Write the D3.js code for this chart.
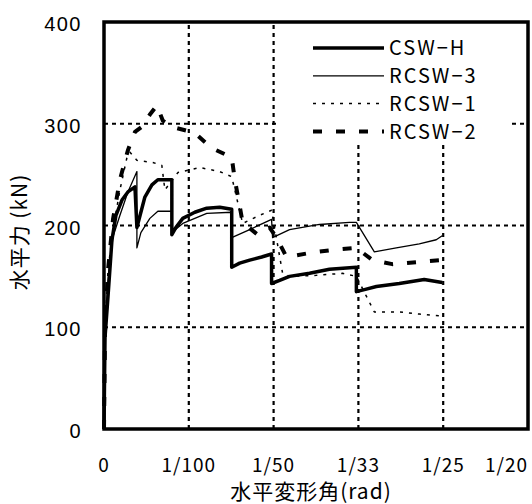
<!DOCTYPE html>
<meta charset="utf-8">
<style>
  body { margin: 0; background: #fff; }
  text { fill: #000; }
  .ytick { font-family: "Liberation Sans", Arial, sans-serif; font-size: 20px; letter-spacing: 1.5px; }
  .xtick { font-family: "Noto Sans CJK JP", sans-serif; font-size: 19px; letter-spacing: 1px; }
  .legend { font-family: "Noto Sans CJK JP", sans-serif; font-size: 20px; letter-spacing: 2px; }
  .title { font-family: "Noto Sans CJK JP", sans-serif; font-size: 21px; letter-spacing: 1px; }
</style>
<body>
<script src="https://cdnjs.cloudflare.com/ajax/libs/d3/7.8.5/d3.min.js"></script>
<script>
// drift angle (rad) / horizontal force (kN)
var cswH_x = [0, 0.00012, 0.00047, 0.00094, 0.00141, 0.00212, 0.00282, 0.00365, 0.00388, 0.00482, 0.00565, 0.00635, 0.0080, 0.0080, 0.00847, 0.00929, 0.01071, 0.01212, 0.01365, 0.01506, 0.01506, 0.016, 0.01718, 0.01859, 0.01976, 0.01976, 0.02071, 0.02188, 0.02424, 0.02659, 0.02976, 0.02976, 0.03071, 0.03212, 0.03482, 0.03776, 0.03988];
var cswH_y = [0, 90, 130, 186, 210, 225, 233, 238, 198, 228, 240, 245, 245, 191, 198, 207, 213, 217, 218, 216, 159, 163, 166, 169, 172, 143, 146, 150, 153, 157, 159, 135, 137, 140, 143, 147, 144];

var rcsw3_x = [0, 0.00012, 0.00047, 0.00106, 0.00188, 0.00282, 0.00388, 0.00388, 0.00435, 0.00541, 0.00635, 0.0080, 0.0080, 0.00929, 0.01212, 0.01506, 0.01506, 0.01718, 0.01976, 0.01988, 0.02188, 0.02541, 0.02894, 0.02976, 0.03188, 0.03447, 0.03718, 0.03918, 0.03988];
var rcsw3_y = [0, 97, 146, 189, 210, 233, 253, 178, 193, 207, 214, 214, 193, 202, 212, 213, 188, 196, 206, 188, 196, 201, 203, 203, 174, 178, 182, 186, 190];

var rcsw1_x = [0, 0.00012, 0.00047, 0.00106, 0.00188, 0.00271, 0.00306, 0.00388, 0.00576, 0.00682, 0.00718, 0.00871, 0.01129, 0.01365, 0.01506, 0.01635, 0.01835, 0.01976, 0.02106, 0.02188, 0.02506, 0.02812, 0.02976, 0.03188, 0.03482, 0.03718, 0.03988];
var rcsw1_y = [0, 97, 156, 196, 235, 267, 272, 264, 262, 259, 235, 252, 257, 253, 248, 202, 210, 215, 153, 150, 151, 153, 150, 115, 115, 113, 111];

var rcsw2_x = [0, 0.00012, 0.00047, 0.00106, 0.00188, 0.00282, 0.00365, 0.00447, 0.00541, 0.00624, 0.00694, 0.0080, 0.01071, 0.01271, 0.01506, 0.01541, 0.01635, 0.01812, 0.01953, 0.02035, 0.02153, 0.02424, 0.02694, 0.02976, 0.03165, 0.034, 0.03682, 0.03988];
var rcsw2_y = [0, 97, 156, 206, 245, 274, 292, 297, 309, 318, 303, 297, 291, 276, 267, 246, 203, 191, 198, 188, 169, 173, 176, 178, 166, 162, 164, 166];

var xTicks = [0, 0.01, 0.02, 0.03, 0.04, 0.05];
var xTickLabels = ["0", "1/100", "1/50", "1/33", "1/25", "1/20"];
var yTicks = [0, 100, 200, 300, 400];

var width = 532, height = 504;
var svg = d3.select("body").append("svg")
    .attr("width", width)
    .attr("height", height);

var x = d3.scaleLinear().domain([0, 0.05]).range([104, 528]);
var y = d3.scaleLinear().domain([0, 400]).range([429, 22]);

// grid
svg.selectAll(".vgrid")
    .data(xTicks.slice(1, 5))
  .enter().append("line")
    .attr("x1", function(d) { return x(d); })
    .attr("x2", function(d) { return x(d); })
    .attr("y1", y(0)).attr("y2", y(400))
    .attr("stroke", "#000").attr("stroke-width", 2.2)
    .attr("stroke-dasharray", "4,4");

svg.selectAll(".hgrid")
    .data([100, 200, 300])
  .enter().append("line")
    .attr("x1", x(0)).attr("x2", x(0.05))
    .attr("y1", function(d) { return y(d); })
    .attr("y2", function(d) { return y(d); })
    .attr("stroke", "#000").attr("stroke-width", 2.2)
    .attr("stroke-dasharray", "4,4");

// series
var series = [
  { name: "RCSW-1", xs: rcsw1_x, ys: rcsw1_y, w: 1.5, dash: "3,6" },
  { name: "RCSW-3", xs: rcsw3_x, ys: rcsw3_y, w: 1.3, dash: null },
  { name: "RCSW-2", xs: rcsw2_x, ys: rcsw2_y, w: 4, dash: "9,14" },
  { name: "CSW-H", xs: cswH_x, ys: cswH_y, w: 3.5, dash: null }
];

var line = d3.line()
    .x(function(d) { return x(d[0]); })
    .y(function(d) { return y(d[1]); });

series.forEach(function(s) {
  svg.append("path")
    .attr("d", line(d3.zip(s.xs, s.ys)))
    .attr("fill", "none")
    .attr("stroke", "#000")
    .attr("stroke-width", s.w)
    .attr("stroke-linejoin", "round")
    .attr("stroke-dasharray", s.dash);
});

// legend
svg.append("rect")
    .attr("x", 277).attr("y", 25).attr("width", 231).attr("height", 118)
    .attr("fill", "#fff");

var legendOrder = ["CSW-H", "RCSW-3", "RCSW-1", "RCSW-2"];
var legendLabels = ["CSW\u2212H", "RCSW\u22123", "RCSW\u22121", "RCSW\u22122"];
legendOrder.forEach(function(name, i) {
  var s = series.filter(function(d) { return d.name === name; })[0];
  var ly = 48 + i * 27.8;
  svg.append("line")
    .attr("x1", 313).attr("x2", 384)
    .attr("y1", ly).attr("y2", ly)
    .attr("stroke", "#000")
    .attr("stroke-width", s.w)
    .attr("stroke-dasharray", s.dash);
  svg.append("text")
    .attr("class", "legend")
    .attr("x", 389).attr("y", ly)
    .attr("dy", "0.36em")
    .text(legendLabels[i]);
});

// frame
svg.append("rect")
    .attr("x", x(0)).attr("y", y(400))
    .attr("width", x(0.05) - x(0)).attr("height", y(0) - y(400))
    .attr("fill", "none").attr("stroke", "#000").attr("stroke-width", 3.5);

// axes labels
svg.selectAll(".ytick")
    .data(yTicks)
  .enter().append("text")
    .attr("class", "ytick")
    .attr("x", 82)
    .attr("y", function(d) { return y(d) + 2; })
    .attr("dy", "0.36em")
    .attr("text-anchor", "end")
    .text(function(d) { return d; });

svg.selectAll(".xtick")
    .data(xTicks)
  .enter().append("text")
    .attr("class", "xtick")
    .attr("x", function(d) { return x(d); })
    .attr("y", 472)
    .attr("text-anchor", function(d, i) { return i === xTicks.length - 1 ? "end" : "middle"; })
    .text(function(d, i) { return xTickLabels[i]; });

svg.append("text")
    .attr("class", "title")
    .attr("x", 311).attr("y", 499)
    .attr("text-anchor", "middle")
    .text("水平変形角(rad)");

svg.append("text")
    .attr("class", "title")
    .attr("transform", "translate(27,232) rotate(-90)")
    .attr("text-anchor", "middle")
    .text("水平力 (kN)");
</script>
